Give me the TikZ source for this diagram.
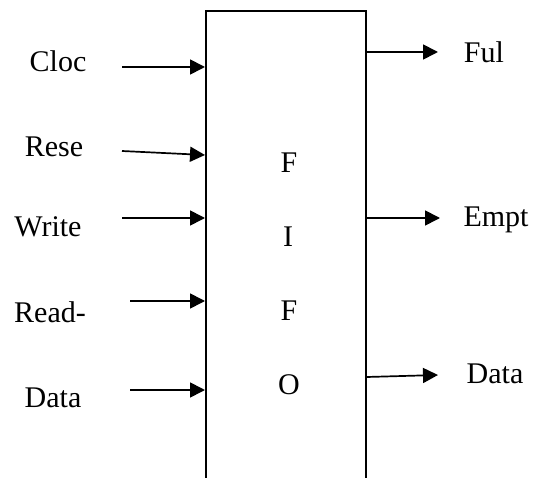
\documentclass[tikz,border=0pt]{standalone}
\usepackage{fontspec}
\setmainfont{Liberation Serif}
\usetikzlibrary{arrows.meta}
\begin{document}
\begin{tikzpicture}[x=1pt,y=-1pt,
  lbl/.style={anchor=base,inner sep=0pt,font=\fontsize{30}{30}\selectfont},
  sig/.style={line width=1.7pt,-{Triangle[length=15pt,width=15pt]}}]
\useasboundingbox (0,0) rectangle (535,478);
% FIFO block (its lower edge runs past the page)
\node[draw,line width=1.7pt,minimum width=160pt,minimum height=490pt,
      anchor=north west,inner sep=0pt] (fifo) at (205,10) {};
\node[lbl] (f1) at (289,173) {F};
\node[lbl] (i1) at (288,247) {I};
\node[lbl] (f2) at (289,320) {F};
\node[lbl] (o1) at (289,394) {O};
% inputs
\node[lbl] (cloc)  at (58,72)  {Cloc};
\node[lbl] (rese)  at (54,157) {Rese};
\node[lbl] (write) at (48,237) {Write};
\node[lbl] (read)  at (50,322) {Read-};
\node[lbl] (datai) at (53,407) {Data};
\coordinate (cloc-s) at (122,67);
\coordinate (rese-s) at (122,151);
\coordinate (write-s) at (122,218);
\coordinate (read-s) at (130,301);
\coordinate (datai-s) at (130,390);
\draw[sig] (cloc-s) -- (fifo.west |- cloc-s);
\draw[sig] (rese-s) -- (fifo.west |- 0,155);
\draw[sig] (write-s) -- (fifo.west |- write-s);
\draw[sig] (read-s) -- (fifo.west |- read-s);
\draw[sig] (datai-s) -- (fifo.west |- datai-s);
% outputs
\node[lbl] (ful)   at (484,63)  {Ful};
\node[lbl] (empt)  at (496,227) {Empt};
\node[lbl] (datao) at (495,383) {Data};
\coordinate (ful-e) at (438,52);
\coordinate (empt-e) at (440,218);
\coordinate (datao-e) at (438,375);
\draw[sig] (fifo.east |- ful-e) -- (ful-e);
\draw[sig] (fifo.east |- empt-e) -- (empt-e);
\draw[sig] (fifo.east |- 0,377) -- (datao-e);
\end{tikzpicture}
\end{document}
